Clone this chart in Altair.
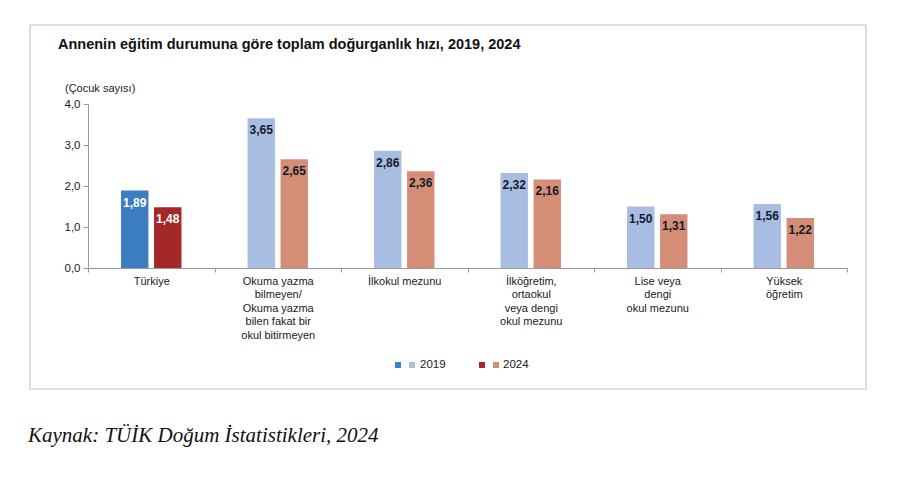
import altair as alt
import pandas as pd

categories = [
    "Türkiye",
    "Okuma yazma|bilmeyen/|Okuma yazma|bilen fakat bir|okul bitirmeyen",
    "İlkokul mezunu",
    "İlköğretim,|ortaokul|veya dengi|okul mezunu",
    "Lise veya|dengi|okul mezunu",
    "Yüksek|öğretim",
]
years = ["2019", "2024"]
values_2019 = [1.89, 3.65, 2.86, 2.32, 1.50, 1.56]
values_2024 = [1.48, 2.65, 2.36, 2.16, 1.31, 1.22]
colors_2019 = ["#3D7DC2", "#A8BDE2", "#A8BDE2", "#A8BDE2", "#A8BDE2", "#A8BDE2"]
colors_2024 = ["#A52828", "#D48E78", "#D48E78", "#D48E78", "#D48E78", "#D48E78"]
label_colors = ["#FFFFFF", "#16192B", "#16192B", "#16192B", "#16192B", "#16192B"]
y_ticks = [0, 1, 2, 3, 4]

title_text = "Annenin eğitim durumuna göre toplam doğurganlık hızı, 2019, 2024"
y_title = "(Çocuk sayısı)"
caption = "Kaynak: TÜİK Doğum İstatistikleri, 2024"

rows = []
for i, c in enumerate(categories):
    rows.append({"cat": c, "year": "2019", "value": values_2019[i], "col": colors_2019[i], "lcol": label_colors[i]})
    rows.append({"cat": c, "year": "2024", "value": values_2024[i], "col": colors_2024[i], "lcol": label_colors[i]})
df = pd.DataFrame(rows)

FONT = "Liberation Sans"
W, H = 759, 164

x_enc = alt.X("cat:N", sort=categories, title=None,
              scale=alt.Scale(paddingInner=0, paddingOuter=0),
              axis=alt.Axis(labelExpr="split(datum.label, '|')", labelAngle=0,
                            tickBand="extent", tickSize=4, tickColor="#999999",
                            domainColor="#999999", labelFont=FONT, labelFontSize=11,
                            labelColor="#1a1a1a", labelPadding=3, labelLineHeight=13.5,
                            labelBaseline="top"))
xoff = alt.XOffset("year:N", sort=years,
                   scale=alt.Scale(paddingInner=0.17, paddingOuter=1))
y_enc = alt.Y("value:Q", title=None,
              scale=alt.Scale(domain=[0, 4], nice=False),
              axis=alt.Axis(values=y_ticks, grid=False, tickSize=5, tickColor="#999999",
                            domainColor="#999999", labelFont=FONT, labelFontSize=11.5,
                            labelColor="#1a1a1a", labelPadding=3,
                            labelExpr="replace(format(datum.value, '.1f'), '.', ',')"))

base = alt.Chart(df)
bars = base.mark_bar().encode(
    x=x_enc, xOffset=xoff, y=y_enc,
    fill=alt.Fill("col:N", scale=None),
)
labels = base.transform_calculate(
    txt="replace(format(datum.value, '.2f'), '.', ',')"
).mark_text(font=FONT, fontSize=12, fontWeight="bold", dy=12, baseline="middle").encode(
    x=alt.X("cat:N", sort=categories), xOffset=alt.XOffset("year:N", sort=years),
    y="value:Q", text="txt:N",
    color=alt.Color("lcol:N", scale=None),
)

one = alt.Data(values=[{}])
box = alt.Chart(one).mark_rect(fillOpacity=0, stroke="#c4c4c4", strokeWidth=1.2).encode(
    x=alt.value(-58), x2=alt.value(778), y=alt.value(-79), y2=alt.value(285)
)
title = alt.Chart(one).mark_text(text=title_text, font=FONT, fontSize=14.5, fontWeight="bold",
                                 align="left", baseline="middle", color="#111111").encode(
    x=alt.value(-30), y=alt.value(-59))
ytitle = alt.Chart(one).mark_text(text=y_title, font=FONT, fontSize=11, align="left",
                                  baseline="middle", color="#1a1a1a").encode(
    x=alt.value(-23), y=alt.value(-15))

leg_sq = []
for xx, c in [(310, colors_2019[0]), (324, colors_2019[1]), (394, colors_2024[0]), (408, colors_2024[1])]:
    leg_sq.append(alt.Chart(one).mark_square(size=36, color=c, opacity=1).encode(
        x=alt.value(xx), y=alt.value(261)))
leg_txt = [
    alt.Chart(one).mark_text(text=t, font=FONT, fontSize=11.5, align="left", baseline="middle",
                             color="#1a1a1a").encode(x=alt.value(xx), y=alt.value(261))
    for xx, t in [(332, years[0]), (415, years[1])]
]
cap = alt.Chart(one).mark_text(text=caption, font="Liberation Serif", fontSize=21,
                               fontStyle="italic", align="left", baseline="alphabetic",
                               color="#111111").encode(x=alt.value(-60), y=alt.value(338))

chart = alt.layer(box, bars, labels, title, ytitle, *leg_sq, *leg_txt, cap).properties(
    width=W, height=H,
    autosize=alt.AutoSizeParams(type="none"),
    padding={"left": 88, "top": 104, "right": 53, "bottom": 228},
    background="white",
).configure_view(stroke=None)

chart.save("out.html", embed_options={"renderer": "svg", "actions": False})
